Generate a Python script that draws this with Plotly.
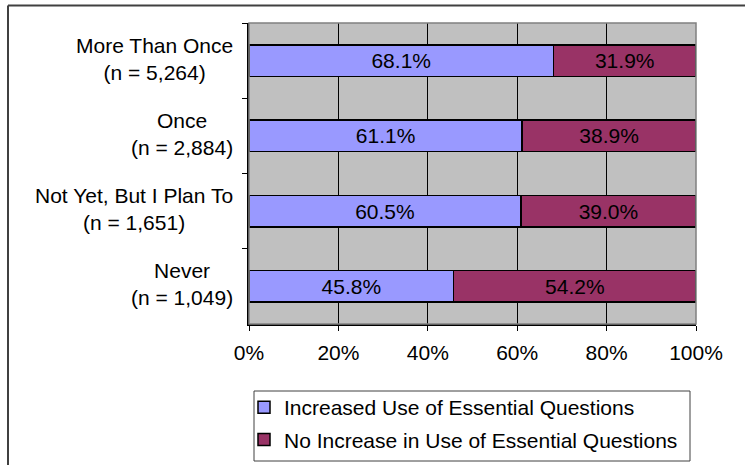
import plotly.graph_objects as go

# Survey groups (top to bottom) and their sample sizes
categories = ["More Than Once", "Once", "Not Yet, But I Plan To", "Never"]
sample_sizes = [5264, 2884, 1651, 1049]

# Percent of respondents in each group
increased = [68.1, 61.1, 60.5, 45.8]
no_increase = [31.9, 38.9, 39.0, 54.2]

series_names = [
    "Increased Use of Essential Questions",
    "No Increase in Use of Essential Questions",
]
series_colors = ["#9999FF", "#993366"]

x_ticks = [0, 20, 40, 60, 80, 100]

FONT = "Liberation Sans, Arial, sans-serif"
FS = 21

fig = go.Figure()
for name, vals, color in zip(series_names, [increased, no_increase], series_colors):
    fig.add_trace(go.Bar(
        y=categories,
        x=vals,
        name=name,
        legendgroup=name,
        orientation="h",
        width=0.42,
        marker=dict(color=color, line=dict(color="#000000", width=1.5)),
        text=[f"{v:.1f}%" for v in vals],
        textposition="inside",
        insidetextanchor="middle",
        constraintext="none",
        textfont=dict(family=FONT, size=FS, color="#000000"),
        hoverinfo="skip",
    ))

# Two-line, centred category labels to the left of the plot
for cat, n in zip(categories, sample_sizes):
    fig.add_annotation(
        x=0, xref="paper", y=cat, yref="y",
        xanchor="right", yanchor="middle", align="center",
        xshift=-14, yshift=2,
        text=f"{cat}<br>(n = {n:,})",
        showarrow=False,
        font=dict(family=FONT, size=FS, color="#000000"),
    )

# Frame of the plotting area
fig.add_shape(type="rect", xref="paper", yref="paper", x0=0, x1=1, y0=0, y1=1,
              line=dict(color="#808080", width=1.5), layer="above")

W, H = 746, 466
L, R, T, B = 249, 50, 23, 142
pw, ph = W - L - R, H - T - B

def px(xp):
    return (xp - L) / pw

def py(yp):
    return (H - B - yp) / ph

# Outer chart border: left and top edges, kept inside the canvas
fig.add_shape(type="line", xref="paper", yref="paper",
              x0=px(8), x1=px(8), y0=py(5.5), y1=py(H - 1),
              line=dict(color="#404040", width=2))
fig.add_shape(type="line", xref="paper", yref="paper",
              x0=px(8), x1=px(W - 1), y0=py(5.5), y1=py(5.5),
              line=dict(color="#404040", width=2))

# Legend frame
fig.add_shape(type="rect", xref="paper", yref="paper",
              x0=px(254), x1=px(690), y0=py(461), y1=py(391),
              line=dict(color="#404040", width=1))

fig.update_layout(
    width=W, height=H,
    margin=dict(l=L, r=R, t=T, b=B, autoexpand=False),
    paper_bgcolor="#FFFFFF",
    plot_bgcolor="#C0C0C0",
    barmode="stack",
    barnorm="percent",
    uniformtext=dict(minsize=FS, mode="show"),
    font=dict(family=FONT, size=FS, color="#000000"),
    showlegend=True,
    legend=dict(
        orientation="v",
        x=px(244), xanchor="left",
        y=py(387), yanchor="top",
        traceorder="grouped",
        tracegroupgap=2,
        bgcolor="rgba(0,0,0,0)",
        borderwidth=0,
        font=dict(family=FONT, size=FS, color="#000000"),
    ),
    xaxis=dict(
        range=[0, 100],
        tickvals=x_ticks,
        ticktext=[f"{t}%" for t in x_ticks],
        showgrid=True, gridcolor="#000000", gridwidth=1,
        zeroline=False,
        showline=True, linecolor="#000000", linewidth=1.5,
        ticks="outside", ticklen=5, tickcolor="#000000",
        ticklabelstandoff=4,
        tickfont=dict(family=FONT, size=FS, color="#000000"),
        fixedrange=True,
    ),
    yaxis=dict(
        autorange="reversed",
        showgrid=False,
        showticklabels=False,
        showline=True, linecolor="#000000", linewidth=1.5,
        ticks="outside", ticklen=5, tickcolor="#000000",
        tickson="boundaries",
        fixedrange=True,
    ),
)

fig.write_html("out.html")
